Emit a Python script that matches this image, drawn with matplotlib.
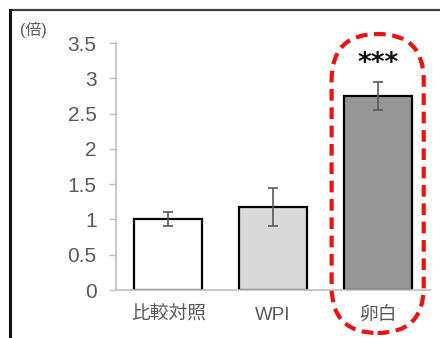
import matplotlib
matplotlib.use("Agg")
import matplotlib.pyplot as plt
from matplotlib.lines import Line2D
from matplotlib.patches import FancyBboxPatch

categories = ["比較対照", "WPI", "卵白"]
values = [1.0, 1.17, 2.75]
errors = [0.10, 0.27, 0.20]
bar_colors = ["#ffffff", "#d9d9d9", "#969696"]
yticks = [0, 0.5, 1, 1.5, 2, 2.5, 3, 3.5]
ytick_labels = ["0", "0.5", "1", "1.5", "2", "2.5", "3", "3.5"]
unit_label = "(倍)"
signif = "***"
highlight = 2

plt.rcParams['font.family'] = ['Liberation Sans', 'Noto Sans CJK JP', 'DejaVu Sans']

W, H = 440, 338
fig = plt.figure(figsize=(W / 100, H / 100), dpi=100)
ax = fig.add_axes([116 / W, 48 / H, 314 / W, 247 / H])

x = range(len(categories))
ax.bar(x, values, width=0.65, color=bar_colors, edgecolor="black", linewidth=1.6,
       yerr=errors, capsize=3.5,
       error_kw=dict(ecolor="#595959", elinewidth=1.2, capthick=1.2), zorder=2)

ax.set_xlim(-0.5, 2.5)
ax.set_ylim(0, 3.5)
ax.set_yticks(yticks)
ax.set_yticklabels(ytick_labels)
ax.set_xticks(list(x))
ax.set_xticklabels(categories)
ax.tick_params(axis="y", direction="out", length=5, width=1, color="#bfbfbf",
               labelsize=15, labelcolor="#595959", pad=9)
ax.tick_params(axis="x", length=0, labelsize=13.5, labelcolor="#595959", pad=12)
for s in ["top", "right"]:
    ax.spines[s].set_visible(False)
for s in ["left", "bottom"]:
    ax.spines[s].set_color("#bfbfbf")
    ax.spines[s].set_linewidth(1.2)

# unit label and significance marker
fig.text(20 / W, 1 - 30 / H, unit_label, fontsize=11.5, color="#595959", va="center", ha="left")
ax.text(highlight, values[highlight] + errors[highlight] + 0.25, signif,
        family="DejaVu Sans", fontweight="bold", fontsize=19, ha="center", va="center",
        color="#111111")

# outer frame lines
fig.add_artist(Line2D([10 / W, 1], [1 - 10 / H, 1 - 10 / H], transform=fig.transFigure,
                      color="#404040", linewidth=1.6))
fig.add_artist(Line2D([10 / W, 10 / W], [0, 1 - 10 / H], transform=fig.transFigure,
                      color="#111111", linewidth=2.2))

# red dashed highlight around the egg-white bar
fig.canvas.draw()
x0 = ax.transData.transform((highlight - 0.44, 0))[0]
x1 = ax.transData.transform((highlight + 0.44, 0))[0]
y_top = H - 34
y_bot = 5
box = FancyBboxPatch((x0, y_bot), x1 - x0, y_top - y_bot,
                     boxstyle="round,pad=0,rounding_size=46",
                     transform=None, fill=False, edgecolor="#ee1111",
                     linewidth=3.0, linestyle=(0, (2.8, 1.6)), zorder=5)
fig.add_artist(box)

fig.savefig("out.png", dpi=100)
